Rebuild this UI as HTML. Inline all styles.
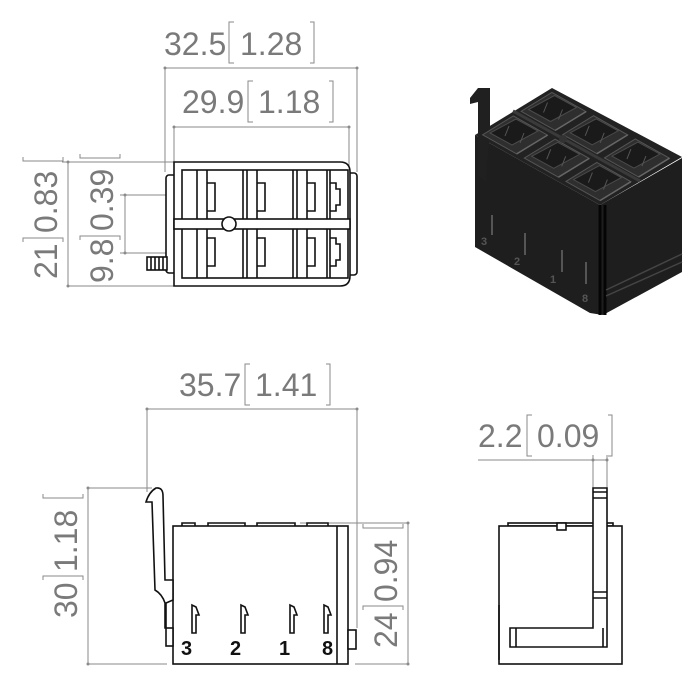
<!DOCTYPE html>
<html><head><meta charset="utf-8"><style>
html,body{margin:0;padding:0;background:#fff;}
svg{display:block;}
.d{font-family:"Liberation Sans",sans-serif;font-size:32px;fill:#7a7a7a;}
.g{stroke:#8a8a8a;stroke-width:1;fill:none;}
.b{stroke:#111;stroke-width:1.6;fill:none;}
.bf{stroke:#111;stroke-width:1.6;fill:#fff;}
.n{font-family:"Liberation Sans",sans-serif;font-size:20px;font-weight:bold;fill:#111;}
</style></head><body>
<svg width="700" height="685" viewBox="0 0 700 685" xmlns="http://www.w3.org/2000/svg">
<defs>
<g id="cell">
<polygon points="482.6,134.8 516.7,153.9 547.5,135.1 513.4,115.9" fill="#2e2e2e" stroke="#555" stroke-width="1"/>
<polygon points="490,133 512,145 538,131 516,119" fill="#1a1a1a" stroke="#4a4a4a" stroke-width="1"/>
<line x1="516.7" y1="153.9" x2="547.5" y2="135.1" stroke="#666" stroke-width="1.5"/>
<path d="M505,136 l4,-10 M520,143 l4,-10" stroke="#555" stroke-width="1"/>
</g>
</defs>
<!-- ===== TOP VIEW ===== -->
<text class="d" x="164" y="55">32.5</text>
<path class="g" d="M234,22 h-5 v41 h5 M310,22 h4 v41 h-4"/>
<text class="d" x="240" y="55">1.28</text>
<line class="g" x1="165" y1="68" x2="357" y2="68"/>
<circle cx="165" cy="68" r="1.5" fill="#8a8a8a"/><circle cx="357" cy="68" r="1.5" fill="#8a8a8a"/>
<line class="g" x1="165" y1="68" x2="165" y2="172"/>
<line class="g" x1="357" y1="68" x2="357" y2="172"/>
<text class="d" x="182" y="113">29.9</text>
<path class="g" d="M253,81 h-5 v41 h5 M329,81 h4 v41 h-4"/>
<text class="d" x="258" y="113">1.18</text>
<line class="g" x1="174" y1="127" x2="349" y2="127"/>
<circle cx="174" cy="127" r="1.5" fill="#8a8a8a"/><circle cx="349" cy="127" r="1.5" fill="#8a8a8a"/>
<line class="g" x1="174" y1="127" x2="174" y2="162"/>
<line class="g" x1="349" y1="127" x2="349" y2="172"/>
<line class="g" x1="68" y1="162" x2="68" y2="286"/>
<circle cx="68" cy="162" r="1.5" fill="#8a8a8a"/><circle cx="68" cy="286" r="1.5" fill="#8a8a8a"/>
<line class="g" x1="62" y1="162" x2="174" y2="162"/>
<line class="g" x1="68" y1="286" x2="174" y2="286"/>
<text class="d" transform="translate(57,279) rotate(-90)">21</text>
<path class="g" d="M23,242 v-4 h40 v4 M23,157 v4 h40 v-4" />
<text class="d" transform="translate(57,233) rotate(-90)">0.83</text>
<line class="g" x1="125" y1="195" x2="125" y2="253"/>
<circle cx="125" cy="195" r="1.5" fill="#8a8a8a"/><circle cx="125" cy="253" r="1.5" fill="#8a8a8a"/>
<line class="g" x1="120" y1="195" x2="357" y2="195"/>
<line class="g" x1="120" y1="253" x2="357" y2="253"/>
<text class="d" transform="translate(113,283) rotate(-90)">9.8</text>
<path class="g" d="M80,240 v-4 h40 v4 M80,154 v4 h40 v-4"/>
<text class="d" transform="translate(113,231) rotate(-90)">0.39</text>
<rect class="bf" x="166" y="175" width="10" height="98" rx="3"/>
<rect class="bf" x="347" y="173" width="10" height="102" rx="3"/>
<path class="bf" d="M174,162 H340 Q350,162 350,172 V276 Q350,286 340,286 H174 Z"/>
<rect class="bf" x="147" y="257" width="20" height="13"/>
<path class="b" d="M151,257 v13 M155,257 v13 M159,257 v13 M163,257 v13"/>
<rect class="b" x="182" y="170" width="166" height="108"/>
<path class="b" d="M197,170 V278 M207,170 V278 M243,170 V278 M247,170 V278 M257,170 V278 M293,170 V278 M297,170 V278 M307,170 V278 M327,170 V278 M330,170 V278"/>
<rect class="bf" x="174" y="219" width="176" height="10"/>
<circle class="bf" cx="229" cy="224" r="7"/>
<path class="b" d="M207,183 h8 v28 h-8 M257,183 h8 v28 h-8 M307,183 h8 v28 h-8 M207,238 h8 v28 h-8 M257,238 h8 v28 h-8 M307,238 h8 v28 h-8"/>
<path class="b" d="M330,183 h6 v6 h4 v16 h-4 v6 h-6 M330,238 h6 v6 h4 v16 h-4 v6 h-6"/>
<!-- ===== 3D VIEW ===== -->
<polygon points="475,135 475,247 590,313 603,315 682,272 682,158 600,205" fill="#1e1e1e"/>
<polygon points="475,135 552,88 682,157 600,205" fill="#222"/>
<polygon points="470,98 478,88 490,88 490,130 486,182 478,175 478,102 470,104" fill="#202020"/>
<use href="#cell"/>
<use href="#cell" transform="translate(41.7,23.3)"/>
<use href="#cell" transform="translate(83.4,46.6)"/>
<use href="#cell" transform="translate(38.5,-23.5)"/>
<use href="#cell" transform="translate(80.2,-0.2)"/>
<use href="#cell" transform="translate(121.9,23.1)"/>
<path d="M513,111 L640,181" stroke="#3a3a3a" stroke-width="3"/>
<circle cx="563" cy="139" r="4" fill="#333"/>
<path d="M600,205 L600,315 M605,205 L605,315" stroke="#050505" stroke-width="3"/>
<path d="M606,290 L682,254 M606,296 L682,262" stroke="#444" stroke-width="1.5"/>
<path d="M492,215 v20 M525,233 v22 M562,250 v22 M586,262 v22" stroke="#555" stroke-width="2"/>
<text x="481" y="245" font-family="Liberation Sans" font-size="11" fill="#555" font-weight="bold">3</text>
<text x="514" y="265" font-family="Liberation Sans" font-size="11" fill="#555" font-weight="bold">2</text>
<text x="550" y="283" font-family="Liberation Sans" font-size="11" fill="#555" font-weight="bold">1</text>
<text x="582" y="302" font-family="Liberation Sans" font-size="11" fill="#555" font-weight="bold">8</text>
<!-- ===== FRONT VIEW ===== -->
<text class="d" x="179" y="396">35.7</text>
<path class="g" d="M250,364 h-5 v41 h5 M326,364 h4 v41 h-4"/>
<text class="d" x="255" y="396">1.41</text>
<line class="g" x1="147" y1="409" x2="357" y2="409"/>
<circle cx="147" cy="409" r="1.5" fill="#8a8a8a"/><circle cx="357" cy="409" r="1.5" fill="#8a8a8a"/>
<line class="g" x1="147" y1="409" x2="147" y2="492"/>
<line class="g" x1="357" y1="409" x2="357" y2="628"/>
<line class="g" x1="88" y1="488" x2="88" y2="664"/>
<circle cx="88" cy="488" r="1.5" fill="#8a8a8a"/><circle cx="88" cy="664" r="1.5" fill="#8a8a8a"/>
<line class="g" x1="88" y1="488" x2="152" y2="488"/>
<line class="g" x1="88" y1="664" x2="167" y2="664"/>
<text class="d" transform="translate(77,618) rotate(-90)">30</text>
<path class="g" d="M43,580 v-4 h40 v4 M43,494 v4 h40 v-4"/>
<text class="d" transform="translate(77,572) rotate(-90)">1.18</text>
<line class="g" x1="408" y1="523" x2="408" y2="664"/>
<circle cx="408" cy="523" r="1.5" fill="#8a8a8a"/><circle cx="408" cy="664" r="1.5" fill="#8a8a8a"/>
<line class="g" x1="300" y1="523" x2="408" y2="523"/>
<line class="g" x1="355" y1="664" x2="408" y2="664"/>
<text class="d" transform="translate(397,648) rotate(-90)">24</text>
<path class="g" d="M363,610 v-4 h40 v4 M363,524 v4 h40 v-4"/>
<text class="d" transform="translate(397,602) rotate(-90)">0.94</text>
<path class="bf" d="M182,526 v-3 h13 v3 M208,526 v-3 h37 v3 M257,526 v-3 h38 v3 M307,526 v-3 h21 v3"/>
<rect class="bf" x="173" y="526" width="175" height="138"/>
<line class="b" x1="337" y1="526" x2="337" y2="664"/>
<path class="bf" d="M146,502 Q149,492 156,488 Q163,487 163,496 L165,580 L173,580 L173,600 L166,603 L166,628 L165,628 L165,603 Q162,594 155,590 L152,502 Z"/>
<rect class="bf" x="166" y="628" width="7" height="18"/>
<rect class="bf" x="348" y="630" width="8" height="19"/>
<g class="b">
<path d="M192,633 V605 L196,607 L199,615 L196,615 V633 Z"/>
<path d="M241,633 V605 L245,607 L248,615 L245,615 V633 Z"/>
<path d="M290,633 V605 L294,607 L297,615 L294,615 V633 Z"/>
<path d="M324,633 V605 L328,607 L331,615 L328,615 V633 Z"/>
</g>
<text class="n" x="181" y="655">3</text>
<text class="n" x="230" y="655">2</text>
<text class="n" x="279" y="655">1</text>
<text class="n" x="322" y="655">8</text>
<!-- ===== SIDE VIEW ===== -->
<text class="d" x="478" y="447">2.2</text>
<path class="g" d="M532,415 h-5 v41 h5 M608,415 h4 v41 h-4"/>
<text class="d" x="537" y="447">0.09</text>
<line class="g" x1="478" y1="460" x2="607" y2="460"/>
<line class="g" x1="593" y1="455" x2="593" y2="488"/>
<line class="g" x1="607" y1="455" x2="607" y2="488"/>
<circle cx="593" cy="460" r="1.5" fill="#8a8a8a"/><circle cx="607" cy="460" r="1.5" fill="#8a8a8a"/>
<rect class="bf" x="508" y="523" width="105" height="3"/>
<rect class="bf" x="499" y="526" width="123" height="138"/>
<rect class="bf" x="557" y="523" width="9" height="7"/>
<line class="b" x1="499" y1="605" x2="499" y2="660"/>
<path class="bf" d="M593,488 H607 V647 H510 V628 H593 Z"/>
<path class="b" d="M593,492 H607 M593,498 H607 M593,592 H607 M593,598 H607 M516,628 V647 M603,628 V647"/>
</svg>
</body></html>
